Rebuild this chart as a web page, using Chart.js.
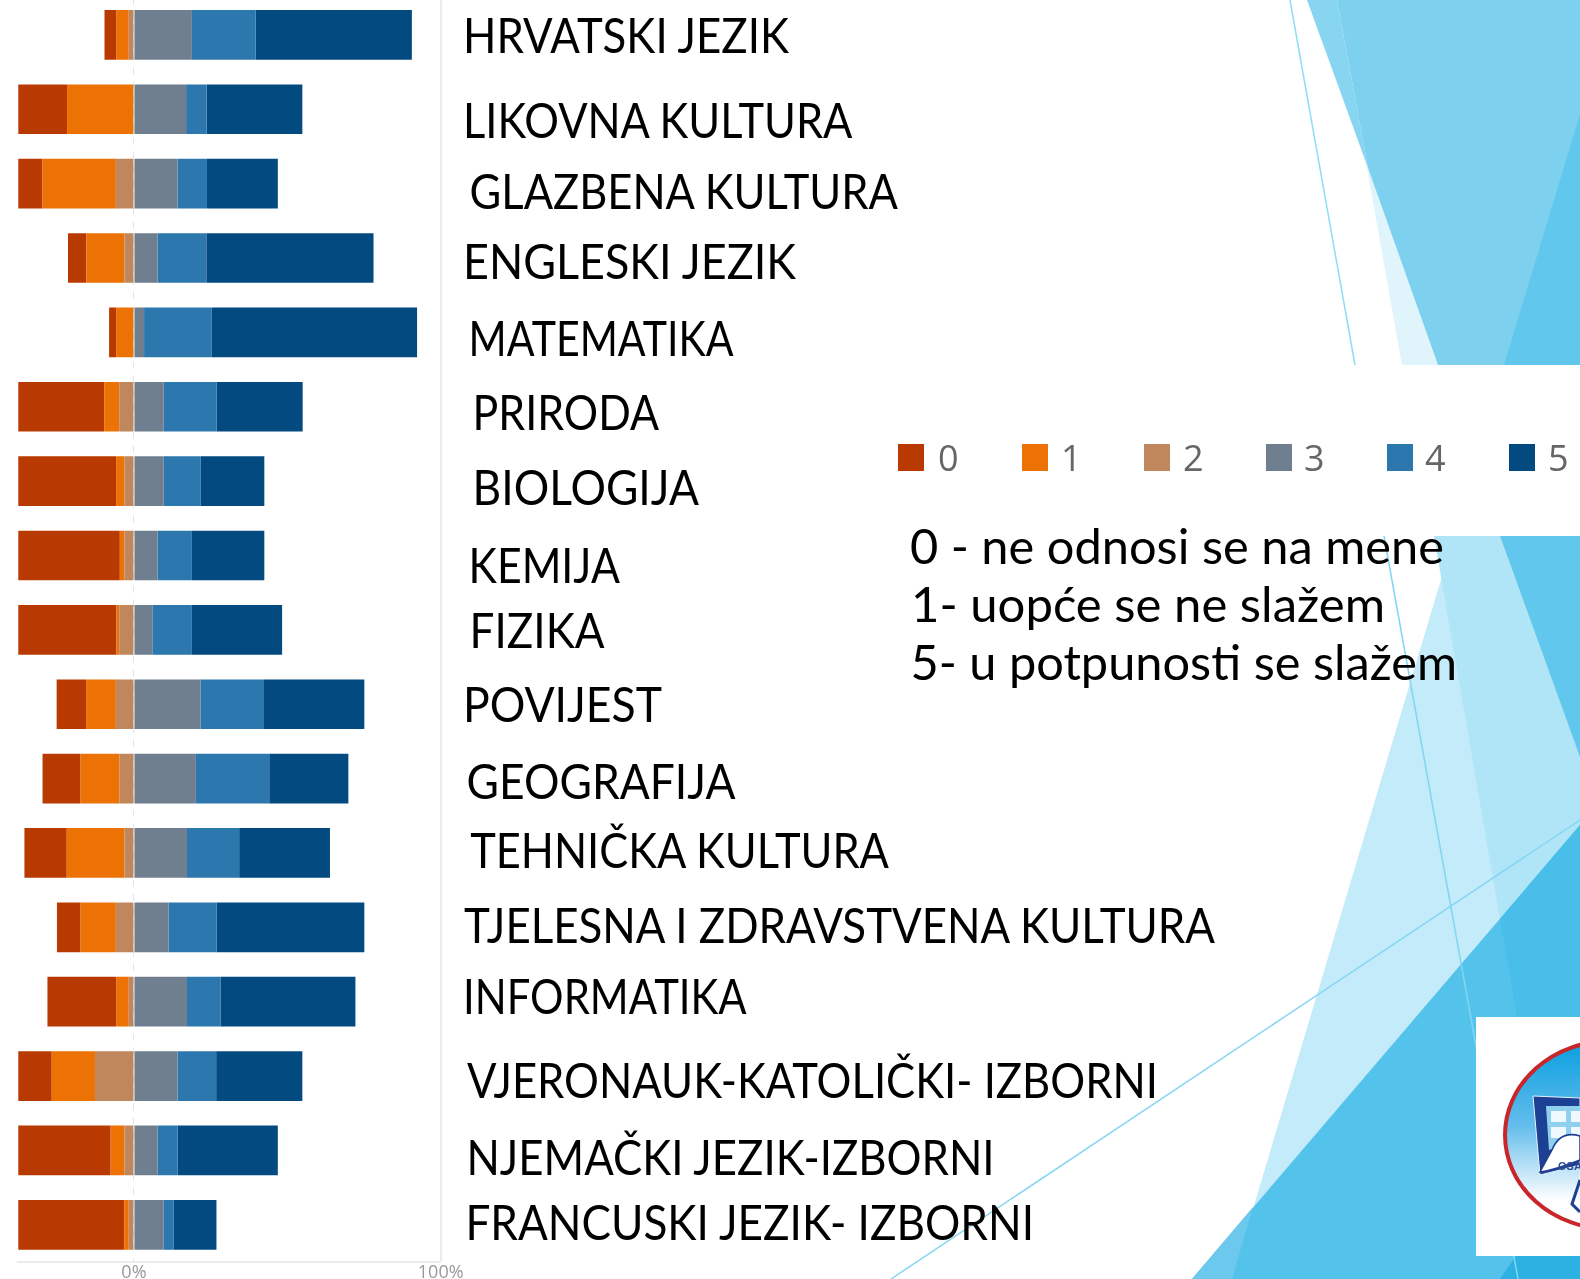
<!DOCTYPE html>
<html><head><meta charset="utf-8">
<script src="https://cdn.jsdelivr.net/npm/chart.js@4"></script>
<style>
html,body{margin:0;padding:0;background:#fff;width:1580px;height:1279px;overflow:hidden}
#bg,#fg{position:absolute;left:0;top:0}
#wrap{position:absolute;left:0;top:-3px;width:1580px;height:1282px}
#chart{filter:blur(0.7px)}
</style></head><body>
<svg id="bg" width="1580" height="1279" viewBox="0 0 1580 1279">
  <defs>
    <linearGradient id="lg" x1="0" y1="0" x2="0" y2="1"><stop offset="0" stop-color="#0a9fe0"/><stop offset="0.45" stop-color="#63bdec"/><stop offset="0.85" stop-color="#ffffff"/></linearGradient>
    <filter id="soft"><feGaussianBlur stdDeviation="0.55"/></filter>
  </defs>
  <!-- upper decoration -->
  <polygon points="1337,0 1402,365 1438,365 1368,168" fill="#e0f4fb"/>
  <polygon points="1307,0 1337,0 1368,168" fill="#88d5f1"/>
  <polygon points="1337,0 1580,0 1580,365 1438,365 1368,168" fill="#7dd1ef"/>
  <polygon points="1580,114 1504,365 1580,365" fill="#62c7ec"/>
  <line x1="1290" y1="0" x2="1355" y2="365" stroke="#8fdcf5" stroke-width="1.5"/>
  <!-- lower decoration -->
  <polygon points="1454,536 1580,536 1580,1279 1232,1279" fill="#c4ebf9"/>
  <polygon points="1434,536 1454,536 1443,575" fill="#e0f4fb"/>
  <polygon points="1434,536 1500,536 1580,757 1580,825 1500,919" fill="#b0e5f7"/>
  <polygon points="1500,536 1580,536 1580,757" fill="#62c7ec"/>
  <polygon points="1580,825 1580,1279 1192,1279" fill="#54c3ec"/>
  <polygon points="1192,1279 1253,1207 1232,1279" fill="#6cc9ed"/>
  <polygon points="1500,919 1580,825 1580,1017 1517,1017" fill="#48bee9"/>
  <polygon points="1516,1256 1580,1256 1580,1279 1500,1279" fill="#2cb1e2"/>
  <line x1="891" y1="1279" x2="1580" y2="820" stroke="#86d7f3" stroke-width="1.5"/>
  <line x1="1384" y1="536" x2="1518" y2="1279" stroke="#7fd6f3" stroke-width="1.5"/>
  <!-- logo -->
  <rect x="1476" y="1017" width="104" height="239" fill="#fff"/>
  <g filter="url(#soft)">
  <ellipse cx="1610" cy="1135" rx="105" ry="94" fill="url(#lg)" stroke="#c9262a" stroke-width="4"/>
  <path d="M1533,1096 L1580,1098 L1580,1200 L1580,1165 Q1560,1170 1540,1175 Z" fill="#1f3f93" stroke="#e8f2fb" stroke-width="1"/>
  <path d="M1546,1106 L1580,1106 L1580,1140 L1549,1150 Z" fill="#8fd0ef"/>
  <rect x="1551" y="1111" width="15" height="11" fill="#eef8fe"/><rect x="1571" y="1111" width="9" height="11" fill="#eef8fe"/>
  <rect x="1551" y="1127" width="15" height="11" fill="#eef8fe"/><rect x="1571" y="1127" width="9" height="11" fill="#eef8fe"/>
  <path d="M1540,1172 Q1555,1170 1580,1160 L1580,1136 Q1560,1130 1552,1150 Z" fill="#fff" stroke="#1f3f93" stroke-width="1.5"/>
  <path d="M1580,1180 L1572,1204 L1580,1212" fill="none" stroke="#1f3f93" stroke-width="3"/>
  <text x="1558" y="1170" font-family="Liberation Sans" font-weight="700" font-size="11" fill="#2d4a8f">OSA</text>
  </g>
</svg>
<div id="wrap"><canvas id="chart" width="1580" height="1282"></canvas></div>
<svg id="fg" width="1580" height="1279" viewBox="0 0 1580 1279"></svg>
<script>
const categories=["HRVATSKI JEZIK","LIKOVNA KULTURA","GLAZBENA KULTURA","ENGLESKI JEZIK","MATEMATIKA","PRIRODA","BIOLOGIJA","KEMIJA","FIZIKA","POVIJEST","GEOGRAFIJA","TEHNIČKA KULTURA","TJELESNA I ZDRAVSTVENA KULTURA","INFORMATIKA","VJERONAUK-KATOLIČKI- IZBORNI","NJEMAČKI JEZIK-IZBORNI","FRANCUSKI JEZIK- IZBORNI"];
const seriesNames=["0","1","2","3","4","5"];
const notes=["0 - ne odnosi se na mene","1- uopće se ne slažem","5- u potpunosti se slažem"];
const tickValues=[0,100];
// answers on the left of zero (negative) and on the right of it, in percent
const s0=[3.8,23.3,23.3,6.0,2.3,35.3,51.7,52.9,45.9,9.6,12.4,13.8,7.7,22.4,18.3,45.5,70.0];
const s1=[4.1,21.8,23.9,12.4,5.8,4.9,2.7,1.5,0.9,9.7,12.7,18.8,11.5,4.1,14.1,4.5,1.4];
const s2=[1.7,0,5.9,3.1,0,4.8,3.1,3.1,4.8,5.9,4.7,3.1,5.9,1.7,12.7,3.1,1.7];
const s3=[18.9,17.0,14.2,7.7,3.3,9.7,9.7,7.7,6.0,21.7,20.2,17.3,11.3,17.3,14.2,7.7,9.7];
const s4=[20.8,6.7,9.6,15.9,22.1,17.2,12.1,11.2,12.9,20.7,23.9,17.0,15.6,10.9,12.6,6.5,3.3];
const s5=[50.9,31.2,23.1,54.5,66.9,28.1,20.7,23.6,29.4,32.7,25.8,29.6,48.2,44.0,28.1,32.7,13.9];
const colors=["#b83a00","#ec7205","#c1875c","#6f7f90","#2c77ae","#024a80"];

// hand placed text, as in the reference: [x, baseline, right edge]
const labelPlace=[[463,53,789],[463,138,852.5],[469.6,208.6,898],[463,279,796],[468.6,355.7,733.6],[472.6,430,659],[472.6,505,699],[468.6,582.5,620],[469.6,648,604.6],[463,721.5,662],[466.6,799,735.6],[470.2,867.6,889],[464,943,1215],[463,1013.7,746.7],[467,1098,1158],[466.4,1175,994.6],[465.4,1239.5,1034]];
const notePlace=[[910,564,1444],[911,622,1385],[910.5,680,1457]];
const legendSquares=[898,1022,1144,1266,1387,1509];
const legendText=[938,1061,1183,1304,1425,1548];

const neg=v=>v.map(x=>-x);
const datasets=[neg(s0),neg(s1),neg(s2),s3,s4,s5].map((d,i)=>({
  label:seriesNames[i],data:d,backgroundColor:colors[i],borderWidth:0,
  order:[2,1,0,3,4,5][i],barPercentage:0.668,categoryPercentage:1
}));
const isZero=c=>c.tick&&c.tick.value===0;

new Chart(document.getElementById('chart'),{
  type:'bar',
  data:{labels:categories,datasets},
  options:{
    indexAxis:'y',responsive:false,animation:false,
    layout:{padding:{left:18.3,right:1139.3,top:0.7,bottom:0}},
    plugins:{legend:{display:false},title:{display:false},tooltip:{enabled:false}},
    scales:{
      y:{stacked:true,display:true,ticks:{display:false},border:{display:false},grid:{display:false},
         afterFit:s=>{s.width=0}},
      x:{stacked:true,min:-37.7,max:100,
         afterBuildTicks:s=>{s.ticks=tickValues.map(v=>({value:v}))},
         afterFit:s=>{s.height=17},
         ticks:{callback:v=>v+'%',autoSkip:false,maxRotation:0,padding:0,font:{family:'"Open Sans"',size:18},color:'#999999'},
         border:{display:true,color:'#ececec',width:2,dash:c=>isZero(c)?[7,7]:[]},
         grid:{drawTicks:false,drawOnChartArea:true,color:c=>isZero(c)?'#e4e4e4':'#ececec',lineWidth:c=>isZero(c)?1:2}}
    }
  }
});

const ns='http://www.w3.org/2000/svg',fg=document.getElementById('fg');
function txt(str,x,y,right,size,fill,family){
  const t=document.createElementNS(ns,'text');
  t.textContent=str;t.setAttribute('x',x);t.setAttribute('y',y);
  t.setAttribute('font-family',family);t.setAttribute('font-size',size);t.setAttribute('fill',fill);
  if(right){t.setAttribute('textLength',right-x);t.setAttribute('lengthAdjust','spacingAndGlyphs');}
  fg.appendChild(t);
}
categories.forEach((c,i)=>txt(c,labelPlace[i][0],labelPlace[i][1],labelPlace[i][2],48,'#000','Lato'));
notes.forEach((c,i)=>txt(c,notePlace[i][0],notePlace[i][1],notePlace[i][2],48,'#000','Lato'));
seriesNames.forEach((c,i)=>{
  const r=document.createElementNS(ns,'rect');
  r.setAttribute('x',legendSquares[i]);r.setAttribute('y',444);r.setAttribute('width',26);r.setAttribute('height',27);r.setAttribute('fill',colors[i]);
  fg.appendChild(r);
  txt(c,legendText[i],471,null,36,'#666','Open Sans');
});
</script>
</body></html>
